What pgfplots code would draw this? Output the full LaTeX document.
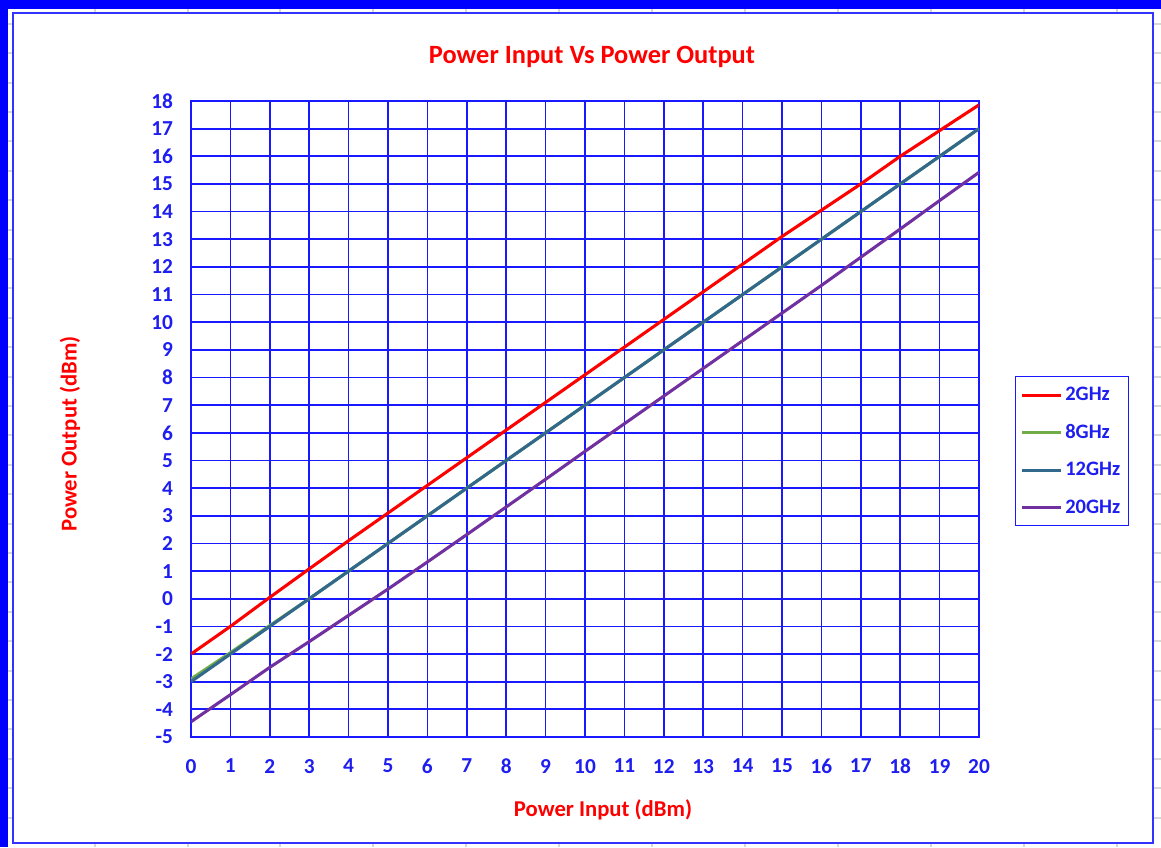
\documentclass[border=0pt]{standalone}
\usepackage{fontspec}
\setmainfont{Carlito}
\usepackage{pgfplots}
\pgfplotsset{compat=1.18}
\definecolor{gblue}{RGB}{25,25,255}
\definecolor{tblue}{RGB}{30,30,240}
\definecolor{ered}{RGB}{255,0,0}
\definecolor{egreen}{RGB}{112,173,71}
\definecolor{eteal}{RGB}{49,104,140}
\definecolor{epurple}{RGB}{112,48,160}
\definecolor{cellgray}{RGB}{215,215,215}
\begin{document}
\begin{tikzpicture}
\begin{scope}[x=0.75pt,y=-0.75pt]
\fill[white] (0,0) rectangle (1161,847);
\useasboundingbox (0,0) rectangle (1161,847);
\foreach \xx in {95,188,280,373,466,559,652,745,838,931,1024,1117} {
  \draw[cellgray, line width=0.8] (\xx,9) -- (\xx,13);
  \draw[cellgray, line width=0.8] (\xx,843) -- (\xx,847);
}
\foreach \yy in {24,53,83,112,141,171,200,230,259,288,318,347,377,406,435,465,494,524,553,582,612,641,671,700,729,759,788,818} {
  \draw[cellgray, line width=0.8] (8,\yy) -- (13,\yy);
  \draw[cellgray, line width=0.8] (1153,\yy) -- (1161,\yy);
}
\fill[blue] (0,0) rectangle (1161,9);
\fill[blue] (0,0) rectangle (8,847);
\draw[blue!80, line width=1.4] (13,13) rectangle (1153,843);
\node[text=ered, font=\fontsize{19.8}{22}\selectfont\bfseries] at (592,57) {Power Input Vs Power Output};
\node[text=ered, font=\fontsize{17}{20}\selectfont\bfseries] at (603,810) {Power Input (dBm)};
\node[text=ered, font=\fontsize{17}{20}\selectfont\bfseries, rotate=90] at (70,434) {Power Output (dBm)};
\coordinate (origin) at (191,737);
\end{scope}
\begin{axis}[
  at={(origin)}, anchor=south west,
  scale only axis, width=591pt, height=477pt,
  xmin=0, xmax=20, ymin=-5, ymax=18,
  xtick={0,...,20}, ytick={-5,...,18},
  grid=major,
  major grid style={gblue, line width=1.3pt},
  axis line style={gblue, line width=1.3pt},
  major tick length=0pt,
  tick label style={text=tblue, font=\fontsize{16}{18}\selectfont\bfseries},
  /pgf/number format/assume math mode=true,
  xticklabel style={yshift=-13pt},
  yticklabel style={xshift=-10pt},
  legend style={at={(1.0457,0.5676)}, anchor=north west, draw=gblue, line width=1pt,
    font=\fontsize{15.4}{18}\selectfont\bfseries, text=tblue,
    row sep=12.3pt, inner xsep=4pt, inner ysep=6pt,
    /tikz/every even column/.append style={column sep=0pt}},
  legend cell align=left,
  legend image code/.code={\draw[#1, line width=2.2pt] (0pt,0pt) -- (29pt,0pt);},
]
\addplot[ered, line width=2.3pt] coordinates {(0,-2) (1,-1) (2,0.05) (3,1.08) (4,2.1) (5,3.1) (6,4.1) (7,5.1) (8,6.1) (9,7.1) (10,8.1) (11,9.1) (12,10.1) (13,11.1) (14,12.1) (15,13.1) (16,14.05) (17,15.0) (18,16.0) (19,16.93) (20,17.86)};
\addlegendentry{2GHz}
\addplot[egreen, line width=2.3pt] coordinates {(0,-2.9) (1,-1.95) (2,-0.97) (3,0) (4,1) (5,2) (6,3) (7,4) (8,5) (9,6) (10,7) (11,8) (12,9) (13,10) (14,11) (15,12) (16,13) (17,14) (18,15) (19,16) (20,17)};
\addlegendentry{8GHz}
\addplot[eteal, line width=2.3pt] coordinates {(0,-3) (1,-2) (2,-1) (3,0) (4,1) (5,2) (6,3) (7,4) (8,5) (9,6) (10,7) (11,8) (12,9) (13,10) (14,11) (15,12) (16,13) (17,14) (18,15) (19,16) (20,17)};
\addlegendentry{12GHz}
\addplot[epurple, line width=2.3pt] coordinates {(0,-4.45) (1,-3.47) (2,-2.48) (3,-1.55) (4,-0.6) (5,0.35) (6,1.33) (7,2.32) (8,3.32) (9,4.32) (10,5.33) (11,6.33) (12,7.33) (13,8.33) (14,9.33) (15,10.33) (16,11.33) (17,12.35) (18,13.37) (19,14.4) (20,15.42)};
\addlegendentry{20GHz}
\end{axis}
\end{tikzpicture}
\end{document}
